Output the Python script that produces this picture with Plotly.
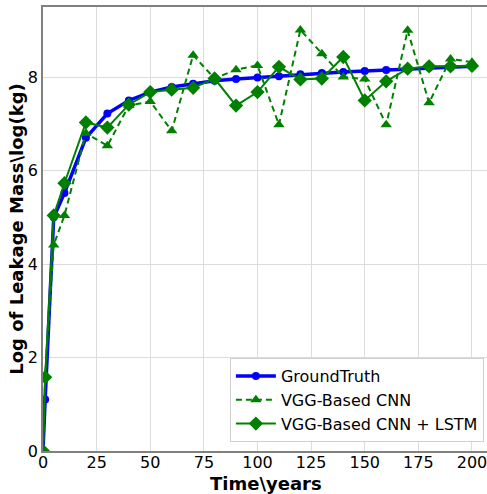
import plotly.graph_objects as go

time_years = [0, 1, 5, 10, 20, 30, 40, 50, 60, 70, 80, 90, 100, 110, 120, 130, 140, 150, 160, 170, 180, 190, 200]
ground_truth = [0, 1.1, 5.0, 5.52, 6.70, 7.22, 7.50, 7.68, 7.79, 7.86, 7.92, 7.96, 7.99, 8.02, 8.06, 8.09, 8.11, 8.13, 8.15, 8.18, 8.20, 8.21, 8.23]
vgg_cnn = [0, 1.6, 4.41, 5.04, 6.80, 6.53, 7.39, 7.48, 6.85, 8.47, 7.97, 8.16, 8.25, 6.98, 9.01, 8.50, 8.00, 7.96, 6.98, 9.00, 7.45, 8.39, 8.32]
vgg_cnn_lstm = [0, 1.58, 5.04, 5.73, 7.03, 6.92, 7.41, 7.68, 7.73, 7.77, 7.97, 7.39, 7.68, 8.22, 7.95, 7.97, 8.43, 7.50, 7.91, 8.18, 8.23, 8.23, 8.24]

x_ticks = [0, 25, 50, 75, 100, 125, 150, 175, 200]
y_ticks = [0, 2, 4, 6, 8]

font = "DejaVu Sans"
green = "#008000"

fig = go.Figure()
fig.add_trace(go.Scatter(
    x=time_years, y=ground_truth, name="GroundTruth", mode="lines+markers",
    line=dict(color="#0000ff", width=3.5), marker=dict(symbol="circle", size=8, color="#0000ff")))
fig.add_trace(go.Scatter(
    x=time_years, y=vgg_cnn, name="VGG-Based CNN", mode="lines+markers",
    line=dict(color=green, width=2, dash="6px,4px"), marker=dict(symbol="triangle-up", size=10, color=green)))
fig.add_trace(go.Scatter(
    x=time_years, y=vgg_cnn_lstm, name="VGG-Based CNN + LSTM", mode="lines+markers",
    line=dict(color=green, width=2), marker=dict(symbol="diamond", size=11, color=green)))

fig.update_layout(
    width=487, height=494,
    margin=dict(l=43, r=0, t=7, b=43, autoexpand=False),
    paper_bgcolor="white", plot_bgcolor="white",
    font=dict(family=font, size=16, color="black"),
    showlegend=True,
    legend=dict(x=0.993, y=0.02, xanchor="right", yanchor="bottom",
                bgcolor="white", bordercolor="#d0d0d0", borderwidth=1,
                font=dict(family=font, size=16), tracegroupgap=0, itemwidth=40),
    xaxis=dict(range=[0, 207], tickvals=x_ticks, ticks="", ticklen=0, showgrid=True, gridcolor="#dcdcdc",
               zeroline=False, showline=True, linecolor="#808080", linewidth=1.5, mirror=True,
               automargin=False, ticklabeloverflow="allow", ticklabelstandoff=-4,
               tickfont=dict(size=16)),
    yaxis=dict(range=[0, 9.5], tickvals=y_ticks, ticks="", ticklen=0, showgrid=True, gridcolor="#dcdcdc",
               zeroline=False, showline=True, linecolor="#808080", linewidth=1.5,
               automargin=False, ticklabeloverflow="allow",
               title=dict(text="<b>Log of Leakage Mass\\log(kg)</b>", font=dict(size=18), standoff=0),
               tickfont=dict(size=16)),
    annotations=[dict(text="<b>Time\\years</b>", xref="paper", yref="paper",
                      x=0.503, y=-0.0725, xanchor="center", yanchor="middle",
                      showarrow=False, font=dict(size=18))],
)

fig.write_html("out.html", config={"displayModeBar": False},
               post_script="document.body.style.margin='0';document.body.style.overflow='hidden';")
